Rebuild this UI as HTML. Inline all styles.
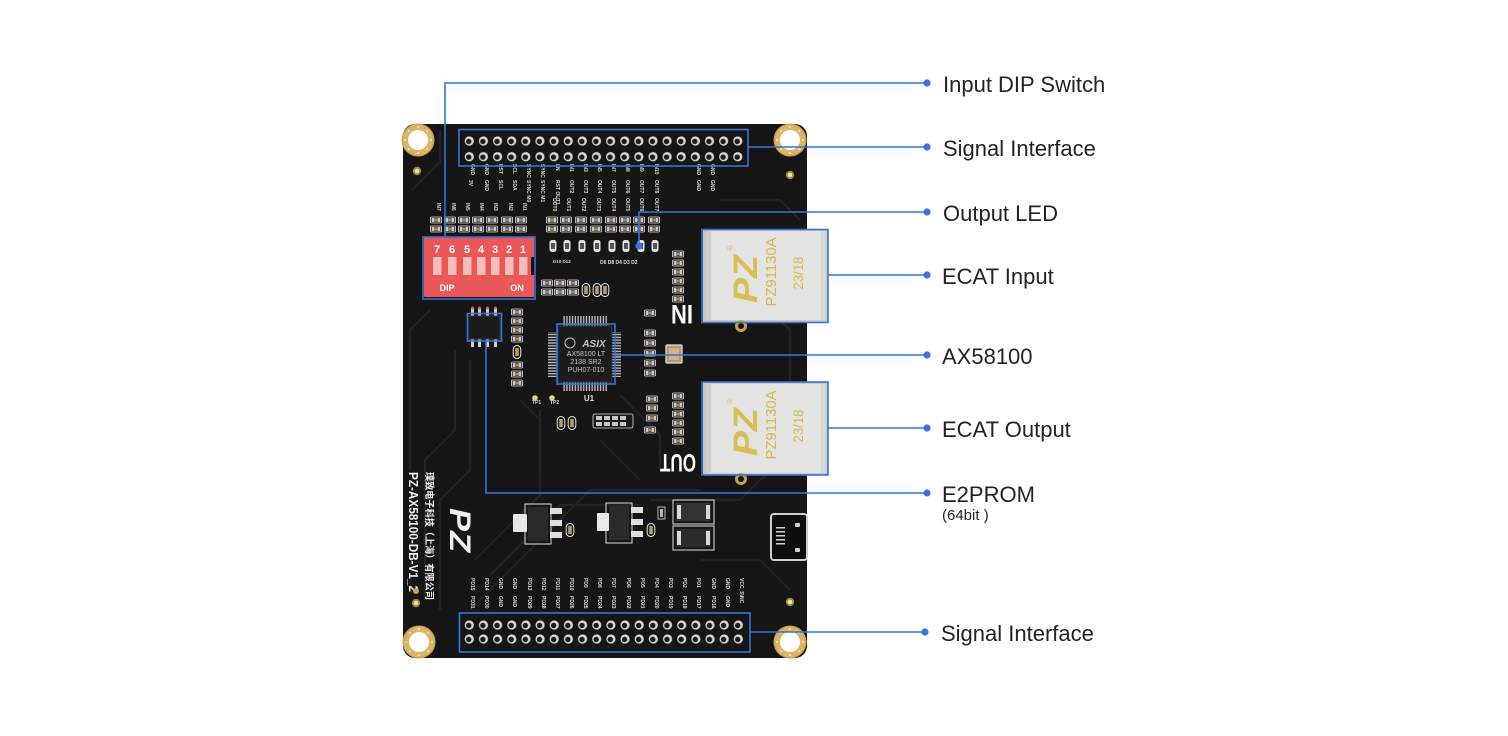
<!DOCTYPE html>
<html><head><meta charset="utf-8">
<style>
html,body{margin:0;padding:0;background:#fff;}
body{width:1508px;height:736px;overflow:hidden;}
svg{display:block;}
.lbl{font-family:"Liberation Sans","Noto Sans CJK SC",sans-serif;font-size:22px;fill:#232323;}
.sm{font-family:"Liberation Sans",sans-serif;font-weight:bold;fill:#dcdcdc;font-size:5px;}
.bl{stroke:#3674d6;stroke-width:1.6;fill:none;}
.bd{fill:#3674d6;}
</style></head><body>
<svg width="1508" height="736" viewBox="0 0 1508 736" xmlns="http://www.w3.org/2000/svg">
<defs>
 <pattern id="pinT" patternUnits="userSpaceOnUse" x="462.23" y="133.15" width="14.13" height="15.7">
   <circle cx="7.07" cy="7.85" r="4.6" fill="#d6d6d6"/>
   <circle cx="6.5" cy="8.3" r="2.7" fill="#1c1c1c"/>
 </pattern>
 <pattern id="pinB" patternUnits="userSpaceOnUse" x="462.22" y="618" width="14.16" height="14">
   <circle cx="7.08" cy="7" r="4.6" fill="#d6d6d6"/>
   <circle cx="6.5" cy="7.5" r="2.7" fill="#1c1c1c"/>
 </pattern>
 <pattern id="cpV" patternUnits="userSpaceOnUse" x="0" y="0" width="2.8" height="10">
   <rect x="0.7" y="0" width="1.3" height="10" fill="#c4c4c4"/>
 </pattern>
 <pattern id="cpH" patternUnits="userSpaceOnUse" x="0" y="0" width="10" height="2.8">
   <rect x="0" y="0.7" width="10" height="1.3" fill="#c4c4c4"/>
 </pattern>
 <g id="ring">
   <circle r="16.5" fill="#cfa552"/>
   <circle r="15" fill="#dbb566"/>
   <circle r="10" fill="#fff"/>
   <circle cx="13" cy="0" r="1" fill="#f6e7bb"/><circle cx="9.2" cy="9.2" r="1" fill="#f6e7bb"/>
   <circle cx="0" cy="13" r="1" fill="#f6e7bb"/><circle cx="-9.2" cy="9.2" r="1" fill="#f6e7bb"/>
   <circle cx="-13" cy="0" r="1" fill="#f6e7bb"/><circle cx="-9.2" cy="-9.2" r="1" fill="#f6e7bb"/>
   <circle cx="0" cy="-13" r="1" fill="#f6e7bb"/><circle cx="9.2" cy="-9.2" r="1" fill="#f6e7bb"/>
 </g>
 <g id="via"><circle r="4.2" fill="#a8843a"/><circle r="2.3" fill="#f3e2a6"/></g>
 <g id="smd">
   <rect x="-5.5" y="-3" width="11" height="6" rx="1" fill="#1a1a1a" stroke="#e0e0e0" stroke-width="0.8"/>
   <rect x="-4.3" y="-2" width="2.6" height="4" fill="#c8c8c8"/>
   <rect x="1.7" y="-2" width="2.6" height="4" fill="#c8c8c8"/>
   <rect x="-1.6" y="-1.6" width="3.2" height="3.2" fill="#a58a6a"/>
 </g>
 <g id="capr">
   <rect x="-3.8" y="-6.5" width="7.6" height="13" rx="3.8" fill="#1a1a1a" stroke="#e6e6e6" stroke-width="1"/>
   <rect x="-1.8" y="-4" width="3.6" height="8" fill="#b99a6a"/>
 </g>
 <g id="led">
   <rect x="-3.5" y="-6" width="7" height="12" rx="2.5" fill="#e2e2e2"/>
   <rect x="-2" y="-3" width="4" height="6" fill="#555"/>
 </g>
 <g id="rj">
   <rect x="0" y="0" width="125" height="93" fill="#c9c9c7"/>
   <rect x="3" y="2" width="120" height="89" fill="#e3e3e1"/>
   <rect x="3" y="2" width="5" height="89" fill="#cfcfcd"/>
   <rect x="118" y="2" width="5" height="89" fill="#d6d6d4"/>
   <text transform="translate(42,50) rotate(-90)" text-anchor="middle" y="12" font-family="Liberation Sans, sans-serif" font-weight="bold" font-style="italic" font-size="34" fill="#d9bd55" textLength="48" lengthAdjust="spacingAndGlyphs">PZ</text>
   <text x="27" y="22" font-family="Liberation Sans, sans-serif" font-size="8" fill="#d9bd55" text-anchor="middle">®</text>
   <text transform="translate(68,43) rotate(-90)" text-anchor="middle" y="5" font-family="Liberation Sans, sans-serif" font-size="14.5" fill="#d6b94a" textLength="69" lengthAdjust="spacingAndGlyphs">PZ91130A</text>
   <text transform="translate(95,44) rotate(-90)" text-anchor="middle" y="5" font-family="Liberation Sans, sans-serif" font-size="14" fill="#d6b94a" textLength="33" lengthAdjust="spacingAndGlyphs">23/18</text>
 </g>
</defs>

<!-- board -->
<rect x="403" y="124" width="404" height="534" rx="12" fill="#161616"/>
<g stroke="#242424" stroke-width="2.2" fill="none">
  <path d="M412,190 L440,162 L440,130"/>
  <path d="M410,470 L410,330 L430,310"/>
  <path d="M425,600 L425,460 L455,430 L455,350"/>
  <path d="M440,610 L440,500 L470,470 L470,360"/>
  <path d="M475,560 L540,495 L540,410"/>
  <path d="M490,575 L560,505 L640,505"/>
  <path d="M470,610 L590,490 L700,490"/>
  <path d="M620,395 L660,435 L660,470"/>
  <path d="M650,500 L740,500 L790,450 L790,330 L770,310"/>
  <path d="M520,400 L540,420 L540,470"/>
  <path d="M600,440 L640,480"/>
  <path d="M700,560 L760,560 L790,590"/>
  <path d="M720,200 L780,200 L800,220"/>
</g>

<use href="#ring" x="418" y="140"/>
<use href="#ring" x="790" y="140"/>
<use href="#ring" x="419" y="642"/>
<use href="#ring" x="790" y="642"/>
<use href="#via" x="417" y="171"/>
<use href="#via" x="790" y="175"/>
<use href="#via" x="416" y="603"/>
<use href="#via" x="790" y="602"/>

<!-- headers -->
<rect x="462.23" y="133.15" width="282.6" height="31.4" fill="url(#pinT)"/>
<rect x="462.22" y="618" width="283.2" height="28" fill="url(#pinB)"/>

<!-- top header labels -->
<g class="sm">
 <text transform="translate(471,164) rotate(90)">GND</text>
 <text transform="translate(485,164) rotate(90)">GND</text>
 <text transform="translate(499,164) rotate(90)">RST</text>
 <text transform="translate(513,164) rotate(90)">SCL</text>
 <text transform="translate(527,164) rotate(90)">SYNC</text>
 <text transform="translate(541,164) rotate(90)">SYNC</text>
 <text transform="translate(556,164) rotate(90)">LN</text>
 <text transform="translate(570,164) rotate(90)">IN1</text>
 <text transform="translate(584,164) rotate(90)">IN3</text>
 <text transform="translate(598,164) rotate(90)">IN5</text>
 <text transform="translate(612,164) rotate(90)">IN7</text>
 <text transform="translate(626,164) rotate(90)">IN8</text>
 <text transform="translate(640,164) rotate(90)">IN9</text>
 <text transform="translate(655,164) rotate(90)">IN10</text>
 <text transform="translate(697,164) rotate(90)">GND</text>
 <text transform="translate(711,164) rotate(90)">GND</text>
 <text transform="translate(469,180) rotate(90)">3V</text>
 <text transform="translate(485,180) rotate(90)">GND</text>
 <text transform="translate(499,180) rotate(90)">SCL</text>
 <text transform="translate(513,180) rotate(90)">SDA</text>
 <text transform="translate(527,180) rotate(90)">SYNC M0</text>
 <text transform="translate(541,180) rotate(90)">SYNC M1</text>
 <text transform="translate(556,180) rotate(90)">RST OUT1</text>
 <text transform="translate(570,180) rotate(90)">OUT2</text>
 <text transform="translate(584,180) rotate(90)">OUT3</text>
 <text transform="translate(598,180) rotate(90)">OUT4</text>
 <text transform="translate(612,180) rotate(90)">OUT5</text>
 <text transform="translate(626,180) rotate(90)">OUT6</text>
 <text transform="translate(640,180) rotate(90)">OUT7</text>
 <text transform="translate(655,180) rotate(90)">OUT8</text>
 <text transform="translate(697,180) rotate(90)">GND</text>
 <text transform="translate(711,180) rotate(90)">GND</text>
 <!-- IN labels -->
 <text transform="translate(437,203) rotate(90)">IN7</text>
 <text transform="translate(452,203) rotate(90)">IN6</text>
 <text transform="translate(466,203) rotate(90)">IN5</text>
 <text transform="translate(480,203) rotate(90)">IN4</text>
 <text transform="translate(494,203) rotate(90)">IN3</text>
 <text transform="translate(509,203) rotate(90)">IN2</text>
 <text transform="translate(523,203) rotate(90)">IN1</text>
 <!-- OUT labels -->
 <text transform="translate(553,198) rotate(90)">OUT0</text>
 <text transform="translate(567,198) rotate(90)">OUT1</text>
 <text transform="translate(582,198) rotate(90)">OUT2</text>
 <text transform="translate(597,198) rotate(90)">OUT3</text>
 <text transform="translate(612,198) rotate(90)">OUT4</text>
 <text transform="translate(626,198) rotate(90)">OUT5</text>
 <text transform="translate(640,198) rotate(90)">OUT6</text>
 <text transform="translate(655,198) rotate(90)">OUT7</text>
 <!-- bottom header labels -->
 <text transform="translate(471,578) rotate(90)">PD15</text>
 <text transform="translate(485,578) rotate(90)">PD14</text>
 <text transform="translate(499,578) rotate(90)">GND</text>
 <text transform="translate(513,578) rotate(90)">GND</text>
 <text transform="translate(528,578) rotate(90)">PD13</text>
 <text transform="translate(542,578) rotate(90)">PD12</text>
 <text transform="translate(556,578) rotate(90)">PD11</text>
 <text transform="translate(570,578) rotate(90)">PD10</text>
 <text transform="translate(584,578) rotate(90)">PD9</text>
 <text transform="translate(598,578) rotate(90)">PD8</text>
 <text transform="translate(612,578) rotate(90)">PD7</text>
 <text transform="translate(627,578) rotate(90)">PD6</text>
 <text transform="translate(641,578) rotate(90)">PD5</text>
 <text transform="translate(655,578) rotate(90)">PD4</text>
 <text transform="translate(669,578) rotate(90)">PD3</text>
 <text transform="translate(683,578) rotate(90)">PD2</text>
 <text transform="translate(697,578) rotate(90)">PD1</text>
 <text transform="translate(712,578) rotate(90)">GND</text>
 <text transform="translate(726,578) rotate(90)">GND</text>
 <text transform="translate(740,578) rotate(90)">VCC_5V</text>
 <text transform="translate(471,596) rotate(90)">PD31</text>
 <text transform="translate(485,596) rotate(90)">PD30</text>
 <text transform="translate(499,596) rotate(90)">GND</text>
 <text transform="translate(513,596) rotate(90)">GND</text>
 <text transform="translate(528,596) rotate(90)">PD29</text>
 <text transform="translate(542,596) rotate(90)">PD28</text>
 <text transform="translate(556,596) rotate(90)">PD27</text>
 <text transform="translate(570,596) rotate(90)">PD26</text>
 <text transform="translate(584,596) rotate(90)">PD25</text>
 <text transform="translate(598,596) rotate(90)">PD24</text>
 <text transform="translate(612,596) rotate(90)">PD23</text>
 <text transform="translate(627,596) rotate(90)">PD22</text>
 <text transform="translate(641,596) rotate(90)">PD21</text>
 <text transform="translate(655,596) rotate(90)">PD20</text>
 <text transform="translate(669,596) rotate(90)">PD19</text>
 <text transform="translate(683,596) rotate(90)">PD18</text>
 <text transform="translate(697,596) rotate(90)">PD17</text>
 <text transform="translate(712,596) rotate(90)">PD16</text>
 <text transform="translate(726,596) rotate(90)">GND</text>
 <text transform="translate(740,596) rotate(90)">NC</text>
 <!-- misc -->
 <text x="553" y="263" font-size="4.5">D10 D12</text>
 <text x="600" y="264">D6 D8 D4 D3 D2</text>
 <text x="532" y="404">TP1</text>
 <text x="550" y="404">TP2</text>
</g>

<!-- input resistors -->
<use href="#smd" x="436" y="220"/><use href="#smd" x="436" y="229"/>
<use href="#smd" x="450" y="220"/><use href="#smd" x="450" y="229"/>
<use href="#smd" x="464" y="220"/><use href="#smd" x="464" y="229"/>
<use href="#smd" x="478" y="220"/><use href="#smd" x="478" y="229"/>
<use href="#smd" x="492" y="220"/><use href="#smd" x="492" y="229"/>
<use href="#smd" x="507" y="220"/><use href="#smd" x="507" y="229"/>
<use href="#smd" x="521" y="220"/><use href="#smd" x="521" y="229"/>
<!-- output resistors -->
<use href="#smd" x="552" y="220"/><use href="#smd" x="552" y="229"/>
<use href="#smd" x="566" y="220"/><use href="#smd" x="566" y="229"/>
<use href="#smd" x="581" y="220"/><use href="#smd" x="581" y="229"/>
<use href="#smd" x="596" y="220"/><use href="#smd" x="596" y="229"/>
<use href="#smd" x="611" y="220"/><use href="#smd" x="611" y="229"/>
<use href="#smd" x="625" y="220"/><use href="#smd" x="625" y="229"/>
<use href="#smd" x="639" y="220"/><use href="#smd" x="639" y="229"/>
<use href="#smd" x="654" y="220"/><use href="#smd" x="654" y="229"/>
<!-- LEDs -->
<use href="#led" x="553" y="246"/><use href="#led" x="567" y="246"/>
<use href="#led" x="582" y="246"/><use href="#led" x="597" y="246"/>
<use href="#led" x="612" y="246"/><use href="#led" x="626" y="246"/>
<use href="#led" x="641" y="246"/><use href="#led" x="655" y="246"/>

<!-- components below LEDs -->
<use href="#smd" x="547" y="283"/><use href="#smd" x="547" y="292"/>
<use href="#smd" x="560" y="283"/><use href="#smd" x="560" y="292"/>
<use href="#smd" x="573" y="283"/><use href="#smd" x="573" y="292"/>
<use href="#capr" x="586" y="290"/><use href="#capr" x="597" y="290"/><use href="#capr" x="605" y="290"/>
<!-- column near IN -->
<use href="#smd" x="678" y="254"/><use href="#smd" x="678" y="263"/><use href="#smd" x="678" y="272"/>
<use href="#smd" x="678" y="281"/><use href="#smd" x="678" y="290"/><use href="#smd" x="678" y="299"/>
<!-- column near OUT -->
<use href="#smd" x="678" y="396"/><use href="#smd" x="678" y="405"/><use href="#smd" x="678" y="414"/>
<use href="#smd" x="678" y="423"/><use href="#smd" x="678" y="432"/><use href="#smd" x="678" y="441"/>
<!-- column near EEPROM -->
<use href="#smd" x="517" y="312"/><use href="#smd" x="517" y="321"/><use href="#smd" x="517" y="330"/>
<use href="#smd" x="517" y="339"/><use href="#capr" x="517" y="352"/><use href="#smd" x="517" y="365"/>
<use href="#smd" x="517" y="374"/><use href="#smd" x="517" y="383"/>
<!-- right of chip -->
<use href="#smd" x="650" y="313"/>
<use href="#smd" x="650" y="333"/><use href="#smd" x="650" y="343"/><use href="#smd" x="650" y="353"/>
<use href="#smd" x="650" y="363"/><use href="#smd" x="650" y="373"/>
<use href="#smd" x="652" y="399"/><use href="#smd" x="652" y="408"/><use href="#smd" x="652" y="418"/>
<use href="#smd" x="650" y="430"/>
<!-- below chip -->
<use href="#capr" x="561" y="423"/><use href="#capr" x="572" y="423"/>
<rect x="593" y="414" width="40" height="14" rx="2" fill="#1a1a1a" stroke="#ddd" stroke-width="0.8"/>
<g fill="#c8c8c8"><rect x="596" y="416" width="6" height="4"/><rect x="604" y="416" width="6" height="4"/><rect x="612" y="416" width="6" height="4"/><rect x="620" y="416" width="6" height="4"/>
<rect x="596" y="422" width="6" height="4"/><rect x="604" y="422" width="6" height="4"/><rect x="612" y="422" width="6" height="4"/><rect x="620" y="422" width="6" height="4"/></g>
<circle cx="535" cy="398" r="2.8" fill="#e6cf8a"/><circle cx="552" cy="398" r="2.8" fill="#e6cf8a"/>

<!-- DIP switch -->
<rect x="424" y="237" width="110" height="60" rx="1" fill="#ea5758"/>
<rect x="531" y="257" width="4" height="18" fill="#111"/>
<g fill="#f6bdbb">
 <rect x="433" y="257" width="8.5" height="18"/><rect x="448" y="257" width="8.5" height="18"/>
 <rect x="463" y="257" width="8.5" height="18"/><rect x="477" y="257" width="8.5" height="18"/>
 <rect x="491" y="257" width="8.5" height="18"/><rect x="505" y="257" width="8.5" height="18"/>
 <rect x="519" y="257" width="8.5" height="18"/>
</g>
<g font-family="Liberation Sans, sans-serif" font-weight="bold" font-size="11" fill="#fff" text-anchor="middle">
 <text x="437" y="253">7</text><text x="452" y="253">6</text><text x="467" y="253">5</text>
 <text x="481" y="253">4</text><text x="495" y="253">3</text><text x="509" y="253">2</text><text x="523" y="253">1</text>
 <text x="447" y="291" font-size="9">DIP</text><text x="517" y="291" font-size="9">ON</text>
</g>

<!-- AX58100 chip -->
<rect x="563" y="316" width="45" height="10" fill="url(#cpV)"/>
<rect x="563" y="382" width="45" height="9" fill="url(#cpV)"/>
<rect x="548" y="332" width="10" height="45" fill="url(#cpH)"/>
<rect x="612" y="332" width="9" height="45" fill="url(#cpH)"/>
<rect x="558" y="326" width="54" height="56" rx="2" fill="#1c1c1c" stroke="#3a3a3a" stroke-width="1"/>
<circle cx="570" cy="343" r="5" fill="none" stroke="#bdbdbd" stroke-width="1"/>
<g font-family="Liberation Sans, sans-serif" fill="#c4c4c4" text-anchor="middle">
 <text x="594" y="347" font-size="10" font-style="italic" font-weight="bold">ASIX</text>
 <text x="586" y="356" font-size="7">AX58100 LT</text>
 <text x="586" y="364" font-size="7">2138    SR2</text>
 <text x="586" y="372" font-size="7">PUH07-010</text>
 <text x="589" y="401" font-size="8" fill="#ddd" font-weight="bold">U1</text>
</g>
<!-- crystal -->
<rect x="666" y="345" width="16" height="18" rx="1" fill="#b89a70" stroke="#e0e0e0" stroke-width="1.2"/>
<rect x="669" y="348" width="10" height="12" fill="#d2b389"/>

<!-- EEPROM -->
<g fill="#cfcfcf">
 <rect x="471" y="308" width="3" height="8"/><rect x="478" y="308" width="3" height="8"/><rect x="486" y="308" width="3" height="8"/><rect x="494" y="308" width="3" height="8"/>
 <rect x="471" y="339" width="3" height="8"/><rect x="478" y="339" width="3" height="8"/><rect x="486" y="339" width="3" height="8"/><rect x="494" y="339" width="3" height="8"/>
</g>
<g fill="#d06a50"><circle cx="472.5" cy="308" r="1.5"/><circle cx="479.5" cy="308" r="1.5"/><circle cx="487.5" cy="308" r="1.5"/><circle cx="495.5" cy="308" r="1.5"/></g>
<rect x="468" y="316" width="32" height="23" rx="1" fill="#1b1b1b" stroke="#3a3a3a"/>

<!-- RJ45 jacks -->
<use href="#rj" x="703" y="229"/>
<use href="#rj" x="703" y="382"/>
<circle cx="741" cy="326" r="6" fill="#c9a24a"/><circle cx="741" cy="326" r="3" fill="#111"/>
<circle cx="741" cy="479" r="6" fill="#c9a24a"/><circle cx="741" cy="479" r="3" fill="#111"/>
<g font-family="Liberation Sans, sans-serif" font-weight="bold" fill="#fff" text-anchor="middle">
 <text transform="translate(682,315) rotate(180)" y="10" font-size="27" textLength="22" lengthAdjust="spacingAndGlyphs">IN</text>
 <text transform="translate(678,463) rotate(180)" y="9" font-size="25" textLength="36" lengthAdjust="spacingAndGlyphs">OUT</text>
</g>

<!-- regulators -->
<rect x="525" y="504" width="26" height="40" fill="none" stroke="#ddd" stroke-width="1"/>
<rect x="528" y="507" width="20" height="34" fill="#2a2a2a"/>
<rect x="513" y="514" width="14" height="18" rx="1" fill="#e8e8e8"/>
<g fill="#dedede"><rect x="550" y="508" width="12" height="6"/><rect x="550" y="520" width="12" height="6"/><rect x="550" y="532" width="12" height="6"/></g>
<rect x="606" y="503" width="26" height="40" fill="none" stroke="#ddd" stroke-width="1"/>
<rect x="609" y="506" width="20" height="34" fill="#2a2a2a"/>
<rect x="597" y="513" width="12" height="18" rx="1" fill="#e8e8e8"/>
<g fill="#dedede"><rect x="631" y="507" width="12" height="6"/><rect x="631" y="519" width="12" height="6"/><rect x="631" y="531" width="12" height="6"/></g>
<use href="#capr" x="570" y="530"/>
<use href="#capr" x="651" y="530"/>
<rect x="658" y="507" width="7" height="12" fill="none" stroke="#ddd" stroke-width="0.8"/>
<rect x="660" y="509" width="3" height="8" fill="#bbb"/>
<!-- diodes -->
<rect x="673" y="500" width="41" height="24" fill="none" stroke="#ddd" stroke-width="1"/>
<rect x="676" y="503" width="35" height="18" fill="#353535"/>
<rect x="677" y="505" width="4" height="14" fill="#d8d8d8"/><rect x="706" y="505" width="4" height="14" fill="#d8d8d8"/>
<rect x="673" y="526" width="41" height="24" fill="none" stroke="#ddd" stroke-width="1"/>
<rect x="676" y="529" width="35" height="18" fill="#2a2a2a"/>
<rect x="677" y="531" width="4" height="14" fill="#d8d8d8"/><rect x="706" y="531" width="4" height="14" fill="#d8d8d8"/>
<!-- USB -->
<rect x="771" y="514" width="36" height="46" rx="3" fill="#0e0e0e" stroke="#cfcfcf" stroke-width="2"/>
<g fill="#cfcfcf"><rect x="776" y="527" width="9" height="1.5"/><rect x="776" y="531" width="9" height="1.5"/><rect x="776" y="535" width="9" height="1.5"/><rect x="776" y="539" width="9" height="1.5"/><rect x="776" y="543" width="9" height="1.5"/>
<rect x="795" y="523" width="5" height="4" rx="1"/><rect x="795" y="548" width="5" height="4" rx="1"/></g>

<!-- left silk text -->
<g font-family="Liberation Sans, 'Noto Sans CJK SC', sans-serif" fill="#f0f0f0" font-weight="bold">
 <text transform="translate(409,472) rotate(90)" font-size="12.5" textLength="120" lengthAdjust="spacingAndGlyphs">PZ-AX58100-DB-V1_2</text>
 <text transform="translate(426,472) rotate(90)" font-size="9.5" textLength="128" lengthAdjust="spacingAndGlyphs">璞致电子科技（上海）有限公司</text>
 <text transform="translate(450,508) rotate(90)" font-size="30" font-style="italic" textLength="44" lengthAdjust="spacingAndGlyphs">PZ</text>
</g>
<circle cx="416" cy="591" r="3" fill="#c9a24a"/>

<!-- callout boxes -->
<rect class="bl" x="423" y="237" width="112" height="62"/>
<rect class="bl" x="459" y="129.5" width="289" height="36.5"/>
<rect class="bl" x="702" y="229.5" width="126" height="93"/>
<rect class="bl" x="557" y="324" width="58" height="60"/>
<rect class="bl" x="702" y="382" width="126" height="93"/>
<rect class="bl" x="467.5" y="313.5" width="34" height="27.5"/>
<rect class="bl" x="459.5" y="613" width="290.5" height="39"/>

<!-- leader lines -->
<path class="bl" d="M445,237 L445,83 L927,83"/>
<path class="bl" d="M748,147 L927,147"/>
<path class="bl" d="M639,246 L639,212 L927,212"/>
<path class="bl" d="M828,275 L927,275"/>
<path class="bl" d="M615,355 L927,355"/>
<path class="bl" d="M828,428 L927,428"/>
<path class="bl" d="M486,341 L486,493 L927,493"/>
<path class="bl" d="M750,632 L925,632"/>
<circle class="bd" cx="927" cy="83" r="3.6"/>
<circle class="bd" cx="927" cy="147" r="3.6"/>
<circle class="bd" cx="927" cy="212" r="3.6"/>
<circle class="bd" cx="639" cy="246" r="3.6"/>
<circle class="bd" cx="927" cy="275" r="3.6"/>
<circle class="bd" cx="927" cy="355" r="3.6"/>
<circle class="bd" cx="927" cy="428" r="3.6"/>
<circle class="bd" cx="927" cy="493" r="3.6"/>
<circle class="bd" cx="925" cy="632" r="3.6"/>

<!-- labels -->
<text class="lbl" x="943" y="92">Input DIP Switch</text>
<text class="lbl" x="943" y="156">Signal Interface</text>
<text class="lbl" x="943" y="221">Output LED</text>
<text class="lbl" x="942" y="284">ECAT Input</text>
<text class="lbl" x="942" y="364">AX58100</text>
<text class="lbl" x="942" y="437">ECAT Output</text>
<text class="lbl" x="942" y="502">E2PROM</text>
<text class="lbl" x="942" y="520" style="font-size:15px">(64bit )</text>
<text class="lbl" x="941" y="641">Signal Interface</text>
</svg>
</body></html>
